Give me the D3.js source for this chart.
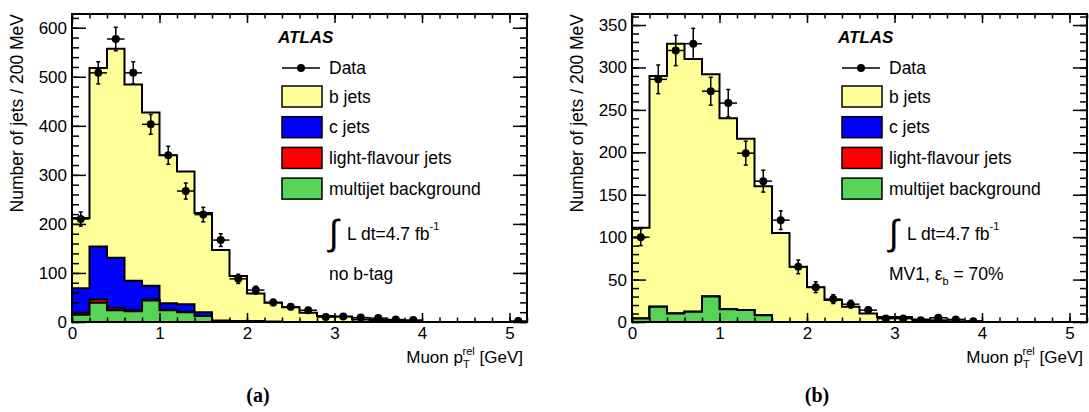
<!DOCTYPE html>
<html>
<head>
<meta charset="utf-8">
<script src="https://cdn.jsdelivr.net/npm/d3@7"></script>
<style>
  body { margin: 0; background: #fff; }
  svg { font-family: "Liberation Sans", Arial, sans-serif; }
</style>
</head>
<body>
<div id="chart"></div>
<script>
// bin width is 0.2 GeV, 26 bins from 0 to 5.2 GeV
const binWidth = 0.2;
const xMaxGeV = 5.2;

// (a) no b-tag
const bJetsA = [143, 364, 426, 400, 353, 302, 271, 202, 144, 92, 56, 38, 30, 19, 12, 11, 5, 4, 3, 2, 0, 0, 0, 0, 0, 0];
const cJetsA = [50, 108, 102, 60, 28, 13, 15, 8, 2, 1, 1, 1, 0, 0, 0, 0, 0, 0, 0, 0, 0, 0, 0, 0, 0, 0];
const lightJetsA = [4, 7, 5, 2, 2, 1, 1, 0, 1, 1, 1, 0, 0, 0, 0, 0, 0, 0, 0, 0, 0, 0, 0, 0, 0, 0];
const multijetA = [15, 39, 24, 22, 44, 24, 20, 12, 0, 0, 0, 0, 0, 0, 0, 0, 0, 0, 0, 0, 0, 0, 0, 0, 0, 0];
const dataA = [210, 508, 577, 508, 403, 340, 267, 219, 167, 88, 65, 40, 31, 24, 10, 11, 9, 8, 5, 4, null, null, null, null, null, 2];

// (b) MV1 70%
const bJetsB = [107, 272, 318, 298, 262, 225, 202, 152, 105, 65, 41, 26, 18, 10, 6, 6, 3, 2, 1, 1, 0, 0, 0, 0, 0, 0];
const cJetsB = [0, 0, 0, 0, 0, 0, 0, 0, 0, 0, 0, 0, 0, 0, 0, 0, 0, 0, 0, 0, 0, 0, 0, 0, 0, 0];
const lightJetsB = [0, 0, 0, 0, 0, 0, 0, 0, 0, 0, 0, 0, 0, 0, 0, 0, 0, 0, 0, 0, 0, 0, 0, 0, 0, 0];
const multijetB = [4, 18, 10, 12, 30, 15, 14, 8, 0, 0, 0, 0, 0, 0, 0, 0, 0, 0, 0, 0, 0, 0, 0, 0, 0, 0];
const dataB = [100, 286, 320, 328, 272, 258, 199, 166, 120, 65, 41, 27, 21, 14, 4, 4, 2, 5, 3, 1, null, null, null, null, null, null];

const xTicks = [0, 1, 2, 3, 4, 5];
const yTicksA = [0, 100, 200, 300, 400, 500, 600];
const yTicksB = [0, 50, 100, 150, 200, 250, 300, 350];

const legendNames = ["b jets", "c jets", "light-flavour jets", "multijet background"];
const colors = {
    "b jets": "#ffff99",
    "c jets": "#0000ff",
    "light-flavour jets": "#ff0000",
    "multijet background": "#57d357"
};

const svg = d3.select("#chart")
    .append("svg")
    .attr("width", 1089)
    .attr("height", 412);

function drawPanel(opt) {
    const dims = { left: opt.left, top: 14, width: 455, height: 308 };

    const xScale = d3.scaleLinear().domain([0, xMaxGeV]).range([0, dims.width]);
    const yScale = d3.scaleLinear().domain([0, opt.yMax]).range([dims.height, 0]);

    const g = svg.append("g")
        .attr("transform", `translate(${dims.left},${dims.top})`);

    const clipId = "clip-" + opt.id;
    g.append("clipPath").attr("id", clipId)
        .append("rect").attr("width", dims.width).attr("height", dims.height);

    // stack bins: multijet at the bottom, b jets on top
    const rows = opt.bJets.map((d, i) => ({
        i: i,
        "b jets": opt.bJets[i],
        "c jets": opt.cJets[i],
        "light-flavour jets": opt.lightJets[i],
        "multijet background": opt.multijet[i]
    }));
    const stackKeys = ["multijet background", "light-flavour jets", "c jets", "b jets"];
    const layers = d3.stack().keys(stackKeys)(rows);

    // histogram step points for a cumulative layer
    function stepPoints(layer) {
        const pts = [[0, 0]];
        layer.forEach((d, i) => {
            pts.push([i * binWidth, d[1]]);
            pts.push([(i + 1) * binWidth, d[1]]);
        });
        pts.push([layer.length * binWidth, 0]);
        return pts;
    }

    const area = d3.area()
        .x(p => xScale(p[0]))
        .y0(yScale(0))
        .y1(p => yScale(p[1]));
    const line = d3.line()
        .x(p => xScale(p[0]))
        .y(p => yScale(p[1]));

    const histG = g.append("g").attr("clip-path", `url(#${clipId})`);
    // ROOT-style: draw each cumulative histogram from zero, top one first
    layers.slice().reverse().forEach(layer => {
        const pts = stepPoints(layer);
        histG.append("path")
            .attr("d", area(pts))
            .attr("fill", colors[layer.key]);
        histG.append("path")
            .attr("d", line(pts))
            .attr("fill", "none")
            .attr("stroke", "#000")
            .attr("stroke-width", 2);
    });

    // data points with errors
    const dataPts = opt.data
        .map((v, i) => ({ x: (i + 0.5) * binWidth, v: v }))
        .filter(d => d.v !== null);
    const ptG = g.append("g").attr("clip-path", `url(#${clipId})`);
    dataPts.forEach(d => {
        const cx = xScale(d.x);
        const cy = yScale(d.v);
        const err = Math.sqrt(d.v);
        const yHi = yScale(d.v + err);
        const yLo = yScale(Math.max(0, d.v - err));
        ptG.append("line")
            .attr("x1", xScale(d.x - binWidth / 2)).attr("x2", xScale(d.x + binWidth / 2))
            .attr("y1", cy).attr("y2", cy)
            .attr("stroke", "#000").attr("stroke-width", 1.5);
        ptG.append("line")
            .attr("x1", cx).attr("x2", cx)
            .attr("y1", yHi).attr("y2", yLo)
            .attr("stroke", "#000").attr("stroke-width", 1.5);
        [yHi, yLo].forEach(yy => {
            ptG.append("line")
                .attr("x1", cx - 2).attr("x2", cx + 2)
                .attr("y1", yy).attr("y2", yy)
                .attr("stroke", "#000").attr("stroke-width", 1.5);
        });
        ptG.append("circle")
            .attr("cx", cx).attr("cy", cy).attr("r", 4)
            .attr("fill", "#000");
    });

    // axes with inward ticks on all four sides
    const xMinor = d3.range(0, xMaxGeV + 1e-6, binWidth);
    const yMinor = d3.range(0, opt.yMax, opt.yMinorStep);

    function styleAxis(sel) {
        sel.select(".domain").remove();
        sel.selectAll("line").attr("stroke", "#000").attr("stroke-width", 1.5);
        sel.attr("font-family", null).attr("font-size", 17);
        sel.selectAll("text").attr("fill", "#000");
    }

    g.append("g")
        .attr("transform", `translate(0,${dims.height})`)
        .call(d3.axisBottom(xScale).tickValues(xMinor).tickSize(-4.5).tickFormat(""))
        .call(styleAxis);
    g.append("g")
        .attr("transform", `translate(0,${dims.height})`)
        .call(d3.axisBottom(xScale).tickValues(xTicks).tickSize(-9).tickPadding(5).tickFormat(d3.format("d")))
        .call(styleAxis);
    g.append("g")
        .call(d3.axisTop(xScale).tickValues(xMinor).tickSize(-4.5).tickFormat(""))
        .call(styleAxis);
    g.append("g")
        .call(d3.axisTop(xScale).tickValues(xTicks).tickSize(-9).tickFormat(""))
        .call(styleAxis);

    g.append("g")
        .call(d3.axisLeft(yScale).tickValues(yMinor).tickSize(-7).tickFormat(""))
        .call(styleAxis);
    g.append("g")
        .call(d3.axisLeft(yScale).tickValues(opt.yTicks).tickSize(-14).tickPadding(5).tickFormat(d3.format("d")))
        .call(styleAxis);
    g.append("g")
        .attr("transform", `translate(${dims.width},0)`)
        .call(d3.axisRight(yScale).tickValues(yMinor).tickSize(-7).tickFormat(""))
        .call(styleAxis);
    g.append("g")
        .attr("transform", `translate(${dims.width},0)`)
        .call(d3.axisRight(yScale).tickValues(opt.yTicks).tickSize(-14).tickFormat(""))
        .call(styleAxis);

    // frame
    g.append("rect")
        .attr("width", dims.width)
        .attr("height", dims.height)
        .attr("fill", "none")
        .attr("stroke", "#000")
        .attr("stroke-width", 2);

    // axis titles
    svg.append("text")
        .attr("transform", `translate(${dims.left - 49},${dims.top}) rotate(-90)`)
        .attr("text-anchor", "end")
        .attr("font-size", 17.5)
        .text("Number of jets / 200 MeV");

    const xt = svg.append("text")
        .attr("x", dims.left + dims.width - 4)
        .attr("y", 363)
        .attr("text-anchor", "end")
        .attr("font-size", 17);
    xt.append("tspan").text("Muon p");
    xt.append("tspan").attr("dy", 5).attr("font-size", 11).text("T");
    xt.append("tspan").attr("dx", -6.7).attr("dy", -13).attr("font-size", 11).text("rel");
    xt.append("tspan").attr("dy", 8).text(" [GeV]");

    // panel label
    svg.append("text")
        .attr("x", opt.labelX)
        .attr("y", 402)
        .attr("text-anchor", "middle")
        .style("font-family", "'Liberation Serif', 'Times New Roman', serif")
        .attr("font-weight", "bold")
        .attr("font-size", 20)
        .text(opt.label);

    // ATLAS label and legend
    const leg = g.append("g");
    leg.append("text")
        .attr("x", 206).attr("y", 29)
        .attr("font-size", 17)
        .attr("font-weight", "bold")
        .attr("font-style", "italic")
        .text("ATLAS");

    leg.append("line")
        .attr("x1", 210).attr("x2", 248)
        .attr("y1", 54).attr("y2", 54)
        .attr("stroke", "#000").attr("stroke-width", 1.5);
    leg.append("circle")
        .attr("cx", 229).attr("cy", 54).attr("r", 4).attr("fill", "#000");
    leg.append("text")
        .attr("x", 257).attr("y", 60)
        .attr("font-size", 17.5)
        .text("Data");

    legendNames.forEach((name, i) => {
        const cy = 82.5 + i * 30.7;
        leg.append("rect")
            .attr("x", 210).attr("y", cy - 10.5)
            .attr("width", 40).attr("height", 21)
            .attr("fill", colors[name])
            .attr("stroke", "#000").attr("stroke-width", 1.5);
        leg.append("text")
            .attr("x", 257).attr("y", cy + 6)
            .attr("font-size", 17.5)
            .text(name);
    });

    // luminosity
    leg.append("text")
        .attr("x", 257).attr("y", 231)
        .attr("font-size", 36)
        .text("\u222B");
    const lumi = leg.append("text")
        .attr("x", 275).attr("y", 226)
        .attr("font-size", 17.5);
    lumi.append("tspan").text("L dt=4.7 fb");
    lumi.append("tspan").attr("dy", -10).attr("font-size", 11).text("-1");

    const sel = leg.append("text")
        .attr("x", 257).attr("y", 266)
        .attr("font-size", 17.5);
    opt.selection.forEach(part => {
        const t = sel.append("tspan").text(part.text);
        if (part.sub) t.attr("dy", 5).attr("font-size", 11);
        if (part.back) t.attr("dy", -5);
    });
}

drawPanel({
    id: "a", left: 72, yMax: 628, yTicks: yTicksA, yMinorStep: 20,
    bJets: bJetsA, cJets: cJetsA, lightJets: lightJetsA, multijet: multijetA, data: dataA,
    label: "(a)", labelX: 258,
    selection: [{ text: "no b-tag" }]
});

drawPanel({
    id: "b", left: 632, yMax: 363, yTicks: yTicksB, yMinorStep: 10,
    bJets: bJetsB, cJets: cJetsB, lightJets: lightJetsB, multijet: multijetB, data: dataB,
    label: "(b)", labelX: 817,
    selection: [{ text: "MV1, \u03B5" }, { text: "b", sub: true }, { text: " = 70%", back: true }]
});
</script>
</body>
</html>
